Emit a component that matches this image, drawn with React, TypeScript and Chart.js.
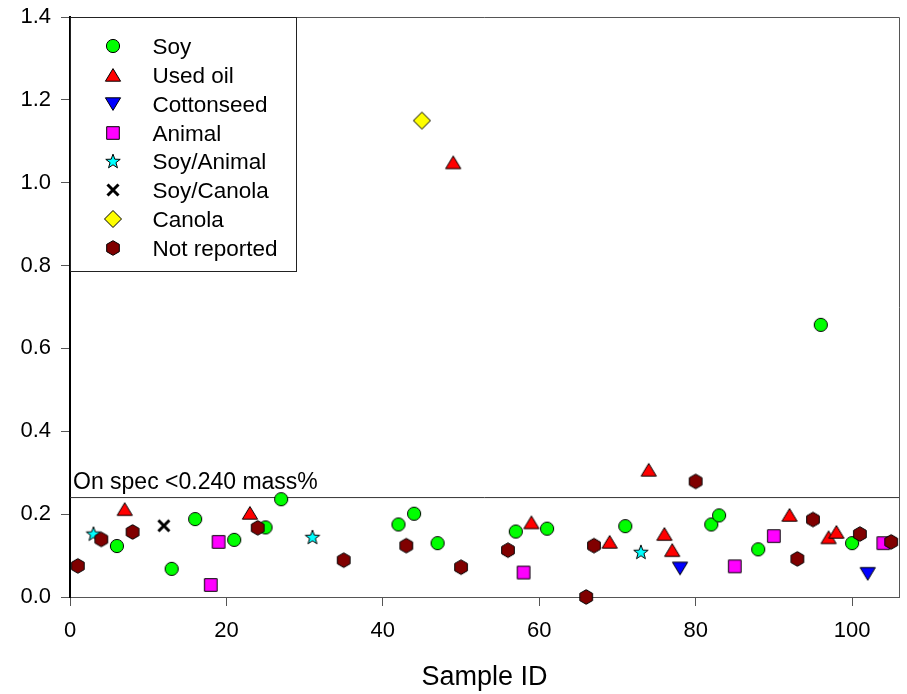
import React, { useEffect, useRef } from 'react';
import { Chart, registerables } from 'chart.js';

Chart.register(...registerables);

const FONT = "'Liberation Sans', Arial, Helvetica, sans-serif";

// ---- Data ----
const SOY_X = [6, 13, 16, 21, 25, 27, 42, 44, 47, 57, 61, 71, 82, 83, 88, 96, 100];
const SOY_Y = [0.123, 0.068, 0.188, 0.138, 0.168, 0.236, 0.175, 0.201, 0.130, 0.158, 0.165, 0.171, 0.175, 0.197, 0.115, 0.657, 0.130];

const USED_OIL_X = [7, 23, 49, 59, 69, 74, 76, 77, 92, 97, 98];
const USED_OIL_Y = [0.212, 0.203, 1.049, 0.180, 0.133, 0.307, 0.152, 0.113, 0.198, 0.144, 0.157];

const COTTONSEED_X = [78, 102];
const COTTONSEED_Y = [0.069, 0.056];

const ANIMAL_X = [18, 19, 58, 85, 90, 104];
const ANIMAL_Y = [0.029, 0.133, 0.059, 0.074, 0.147, 0.130];

const SOY_ANIMAL_X = [3, 31, 73];
const SOY_ANIMAL_Y = [0.153, 0.145, 0.109];

const SOY_CANOLA_X = [12];
const SOY_CANOLA_Y = [0.172];

const CANOLA_X = [45];
const CANOLA_Y = [1.150];

const NOT_REPORTED_X = [1, 4, 8, 24, 35, 43, 50, 56, 66, 67, 80, 93, 95, 101, 105];
const NOT_REPORTED_Y = [0.075, 0.139, 0.157, 0.167, 0.089, 0.124, 0.072, 0.113, 0.0, 0.124, 0.279, 0.092, 0.187, 0.152, 0.133];

const SERIES_LABELS = ['Soy', 'Used oil', 'Cottonseed', 'Animal', 'Soy/Animal', 'Soy/Canola', 'Canola', 'Not reported'];

const THRESHOLD = 0.24;
const THRESHOLD_LABEL = 'On spec <0.240 mass%';
const X_TITLE = 'Sample ID';
const X_MIN = 0;
const X_MAX = 106;
const X_STEP = 20;
const Y_MIN = 0;
const Y_MAX = 1.4;
const Y_STEP = 0.2;

// ---- Symbols ----
const SYM = 20;
function makeSym(draw: (ctx: CanvasRenderingContext2D, c: number) => void): HTMLCanvasElement {
  const cv = document.createElement('canvas');
  cv.width = SYM;
  cv.height = SYM;
  const ctx = cv.getContext('2d') as CanvasRenderingContext2D;
  ctx.lineWidth = 1;
  ctx.strokeStyle = '#000';
  draw(ctx, SYM / 2);
  return cv;
}

function poly(ctx: CanvasRenderingContext2D, pts: number[][], fill: string) {
  ctx.beginPath();
  pts.forEach((p, i) => (i === 0 ? ctx.moveTo(p[0], p[1]) : ctx.lineTo(p[0], p[1])));
  ctx.closePath();
  ctx.fillStyle = fill;
  ctx.fill();
  ctx.stroke();
}

function buildSymbols() {
  const circle = makeSym((ctx, c) => {
    ctx.beginPath();
    ctx.arc(c, c, 6.6, 0, Math.PI * 2);
    ctx.fillStyle = '#00ff00';
    ctx.fill();
    ctx.stroke();
  });
  const triUp = makeSym((ctx, c) => {
    poly(ctx, [[c, c - 6.4], [c + 7.6, c + 6.2], [c - 7.6, c + 6.2]], '#ff0000');
  });
  const triDown = makeSym((ctx, c) => {
    poly(ctx, [[c, c + 6.4], [c + 7.6, c - 6.2], [c - 7.6, c - 6.2]], '#0000ff');
  });
  const square = makeSym((ctx, c) => {
    poly(ctx, [[c - 6.3, c - 6.3], [c + 6.3, c - 6.3], [c + 6.3, c + 6.3], [c - 6.3, c + 6.3]], '#ff00ff');
  });
  const star = makeSym((ctx, c) => {
    const pts: number[][] = [];
    for (let k = 0; k < 10; k++) {
      const r = k % 2 === 0 ? 7.6 : 3.1;
      const a = -Math.PI / 2 + (k * Math.PI) / 5;
      pts.push([c + r * Math.cos(a), c + 0.7 + r * Math.sin(a)]);
    }
    poly(ctx, pts, '#00ffff');
  });
  const cross = makeSym((ctx, c) => {
    ctx.lineWidth = 3;
    ctx.beginPath();
    ctx.moveTo(c - 5.5, c - 5.5);
    ctx.lineTo(c + 5.5, c + 5.5);
    ctx.moveTo(c + 5.5, c - 5.5);
    ctx.lineTo(c - 5.5, c + 5.5);
    ctx.stroke();
  });
  const diamond = makeSym((ctx, c) => {
    poly(ctx, [[c, c - 8.5], [c + 8.5, c], [c, c + 8.5], [c - 8.5, c]], '#ffff00');
  });
  const hexagon = makeSym((ctx, c) => {
    const pts: number[][] = [];
    for (let k = 0; k < 6; k++) {
      const a = -Math.PI / 2 + (k * Math.PI) / 3;
      pts.push([c + 7.3 * Math.cos(a), c + 7.3 * Math.sin(a)]);
    }
    poly(ctx, pts, '#800000');
  });
  return [circle, triUp, triDown, square, star, cross, diamond, hexagon];
}

export default function App() {
  const ref = useRef<HTMLCanvasElement>(null);

  useEffect(() => {
    document.body.style.margin = '0';
    const canvas = ref.current;
    if (!canvas) return;
    const syms = buildSymbols();
    const xs = [SOY_X, USED_OIL_X, COTTONSEED_X, ANIMAL_X, SOY_ANIMAL_X, SOY_CANOLA_X, CANOLA_X, NOT_REPORTED_X];
    const ys = [SOY_Y, USED_OIL_Y, COTTONSEED_Y, ANIMAL_Y, SOY_ANIMAL_Y, SOY_CANOLA_Y, CANOLA_Y, NOT_REPORTED_Y];

    const datasets: any[] = SERIES_LABELS.map((label, i) => ({
      label,
      data: xs[i].map((x, j) => ({ x, y: ys[i][j] })),
      pointStyle: syms[i],
      pointRadius: 7,
      pointHoverRadius: 7,
      clip: false,
      order: SERIES_LABELS.length - i,
    }));
    datasets.push({
      label: 'threshold',
      data: [
        { x: X_MIN, y: THRESHOLD },
        { x: X_MAX, y: THRESHOLD },
      ],
      showLine: true,
      borderColor: '#333',
      borderWidth: 1,
      pointRadius: 0,
      pointHoverRadius: 0,
      order: 100,
    });

    const overlay = {
      id: 'overlay',
      afterDraw(chart: any) {
        const ctx: CanvasRenderingContext2D = chart.ctx;
        const { left, top, right, bottom } = chart.chartArea;
        ctx.save();
        // top & right frame
        ctx.strokeStyle = '#555';
        ctx.lineWidth = 1;
        ctx.beginPath();
        ctx.moveTo(left, top + 0.5);
        ctx.lineTo(right + 0.5, top + 0.5);
        ctx.lineTo(right + 0.5, bottom);
        ctx.stroke();

        // threshold label
        const yPix = chart.scales.y.getPixelForValue(THRESHOLD);
        ctx.font = `23px ${FONT}`;
        ctx.fillStyle = '#000';
        ctx.textAlign = 'left';
        ctx.textBaseline = 'alphabetic';
        ctx.fillText(THRESHOLD_LABEL, left + 3, yPix - 9);

        // legend box
        const bw = 227;
        const bh = 255;
        ctx.fillStyle = '#fff';
        ctx.fillRect(left, top, bw, bh);
        ctx.strokeStyle = '#222';
        ctx.strokeRect(left + 0.5, top + 0.5, bw - 1, bh - 1);
        ctx.font = `22.5px ${FONT}`;
        ctx.fillStyle = '#000';
        SERIES_LABELS.forEach((label, i) => {
          const ry = top + 29 + i * 28.85;
          const s = syms[i];
          ctx.drawImage(s, Math.round(left + 43) - s.width / 2, Math.round(ry) - s.height / 2);
          ctx.fillText(label, left + 82.5, ry + 8);
        });
        ctx.restore();
      },
    };

    const chart = new Chart(canvas, {
      type: 'scatter',
      data: { datasets },
      options: {
        animation: false,
        responsive: false,
        maintainAspectRatio: false,
        devicePixelRatio: 1,
        events: [],
        layout: { padding: { top: 17, right: 7, left: 0, bottom: 0 } },
        plugins: {
          legend: { display: false },
          tooltip: { enabled: false },
        },
        scales: {
          x: {
            type: 'linear',
            min: X_MIN,
            max: X_MAX,
            afterFit: (s: any) => {
              s.height = 97;
              s.paddingLeft = 0;
              s.paddingRight = 0;
            },
            ticks: {
              stepSize: X_STEP,
              includeBounds: false,
              maxRotation: 0,
              autoSkip: false,
              padding: 12,
              color: '#000',
              font: { family: FONT, size: 22 },
            },
            grid: {
              drawOnChartArea: false,
              drawTicks: true,
              tickLength: 9,
              color: '#555',
              lineWidth: 1,
            },
            border: { display: true, color: '#555', width: 1 },
            title: {
              display: true,
              text: X_TITLE,
              color: '#000',
              font: { family: FONT, size: 27 },
              padding: { top: 0, bottom: 0 },
            },
          },
          y: {
            type: 'linear',
            min: Y_MIN,
            max: Y_MAX,
            afterFit: (s: any) => {
              s.width = 70;
              s.paddingTop = 0;
              s.paddingBottom = 0;
            },
            ticks: {
              stepSize: Y_STEP,
              autoSkip: false,
              padding: 10,
              color: '#000',
              font: { family: FONT, size: 22 },
              callback: (v: any) => Number(v).toFixed(1),
            },
            grid: {
              drawOnChartArea: false,
              drawTicks: true,
              tickLength: 9,
              color: '#555',
              lineWidth: 1,
            },
            border: { display: true, color: '#000', width: 2 },
          },
        },
      } as any,
      plugins: [overlay],
    });

    return () => chart.destroy();
  }, []);

  return (
    <div style={{ position: 'absolute', left: 0, top: 0, width: 907, height: 694, background: '#fff' }}>
      <canvas ref={ref} width={907} height={694} style={{ display: 'block' }} />
    </div>
  );
}
